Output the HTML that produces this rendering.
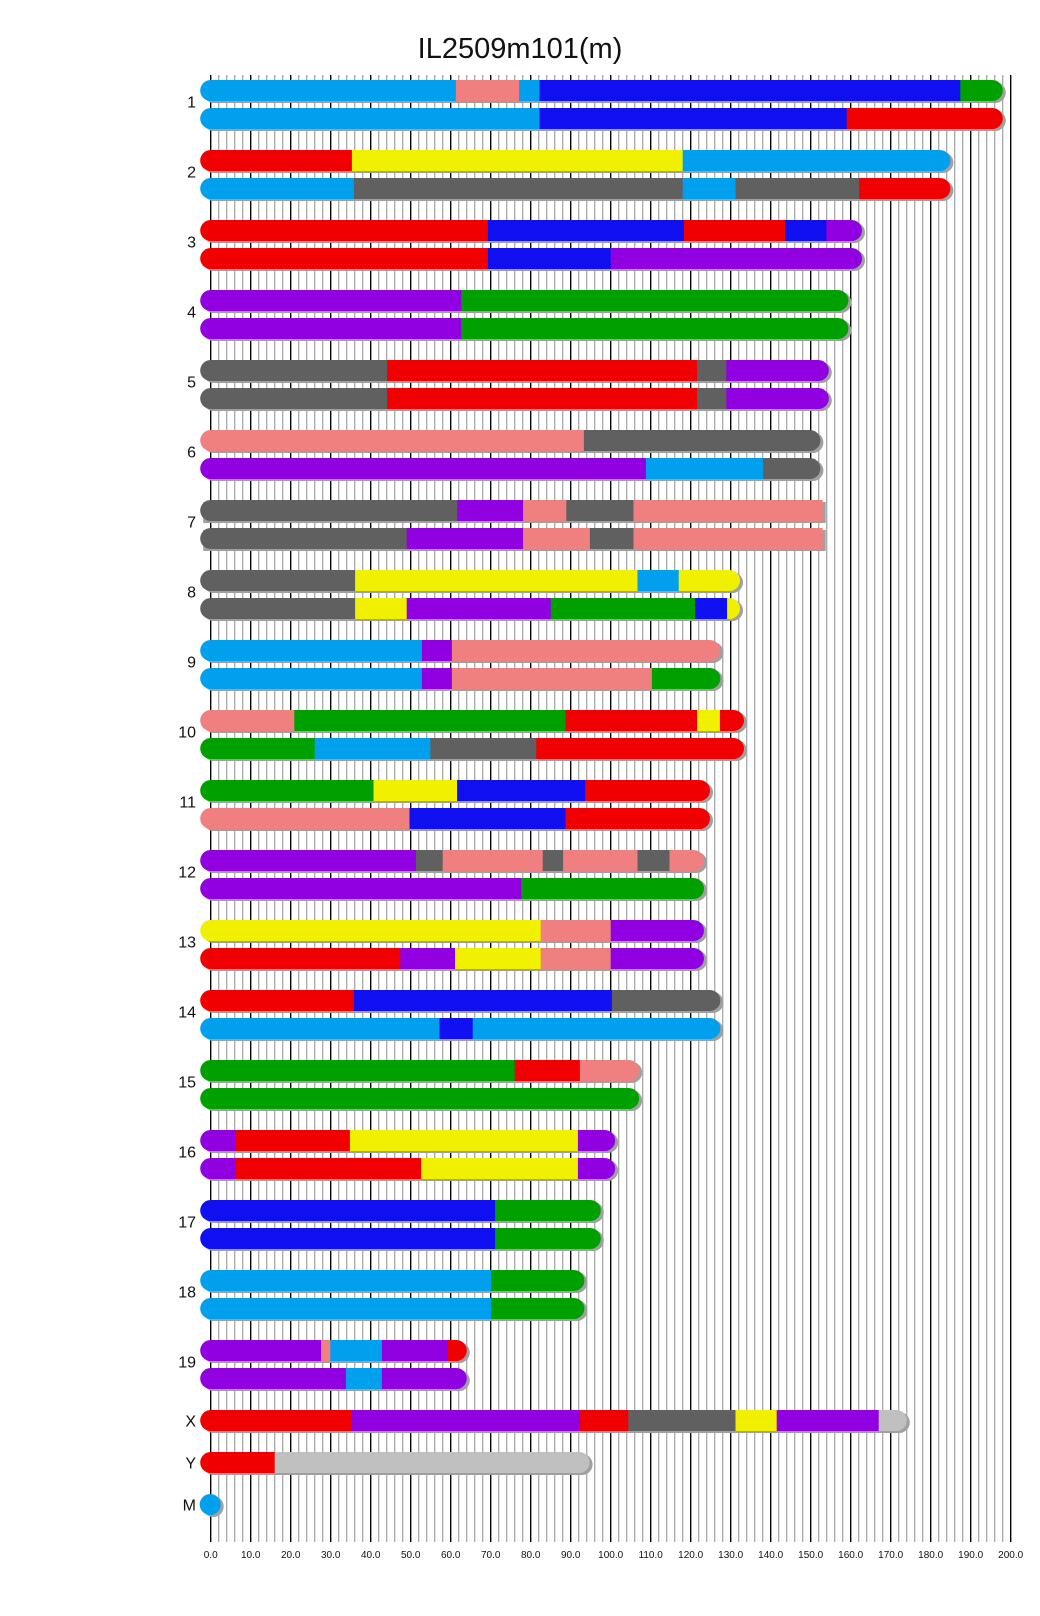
<!DOCTYPE html>
<html><head><meta charset="utf-8"><style>
html,body{margin:0;padding:0;background:#fff;}
svg{display:block;font-family:"Liberation Sans",sans-serif;}
</style></head><body>
<svg id="chart" width="1040" height="1616" viewBox="0 0 1040 1616">
<text x="520" y="58" text-anchor="middle" font-size="29" fill="#111">IL2509m101(m)</text>
<g id="grid"></g>
<g id="bars"></g>
<g id="axis"></g>
</svg>
<script>
const COLORS = {S:'#00a0ee',P:'#f08080',B:'#1010f0',G:'#00a000',R:'#f00000',Y:'#f0f000',D:'#606060',V:'#9000e0',L:'#c0c0c0'};
const chromNames = ['1','2','3','4','5','6','7','8','9','10','11','12','13','14','15','16','17','18','19','X','Y','M'];
const chromLengths = [195.4,182.3,160.2,156.8,151.9,149.8,153,129.7,124.8,130.7,122.2,120.7,120.7,124.8,104.5,98.5,94.9,90.8,61.4,171.4,92.1,0];
const squareEnd = ['7'];
const hapA = [
 [[61.3,'S'],[77.1,'P'],[82.2,'S'],[187.4,'B'],[999,'G']],
 [[35.3,'R'],[118,'Y'],[999,'S']],
 [[69.3,'R'],[118.3,'B'],[143.6,'R'],[153.9,'B'],[999,'V']],
 [[62.6,'V'],[999,'G']],
 [[44.1,'D'],[121.6,'R'],[128.9,'D'],[999,'V']],
 [[93.3,'P'],[999,'D']],
 [[61.6,'D'],[78.1,'V'],[88.9,'P'],[105.7,'D'],[999,'P']],
 [[36.1,'D'],[106.7,'Y'],[117,'S'],[999,'Y']],
 [[52.8,'S'],[60.3,'V'],[999,'P']],
 [[20.9,'P'],[88.7,'G'],[121.6,'R'],[127.3,'Y'],[999,'R']],
 [[40.7,'G'],[61.6,'Y'],[93.6,'B'],[999,'R']],
 [[51.3,'V'],[58,'D'],[83,'P'],[88.1,'D'],[106.7,'P'],[114.7,'D'],[999,'P']],
 [[82.5,'Y'],[100,'P'],[999,'V']],
 [[35.8,'R'],[100.3,'B'],[999,'D']],
 [[76,'G'],[92.3,'R'],[999,'P']],
 [[6.2,'V'],[34.8,'R'],[91.8,'Y'],[999,'V']],
 [[71.1,'B'],[999,'G']],
 [[70.1,'S'],[999,'G']],
 [[27.6,'V'],[29.9,'P'],[42.8,'S'],[59.3,'V'],[999,'R']],
 [[35.3,'R'],[92.3,'V'],[104.4,'R'],[131.2,'D'],[141.5,'Y'],[167,'V'],[999,'L']],
 [[16,'R'],[999,'L']],
 [[999,'S']]
];
const hapB = [
 [[82.2,'S'],[159,'B'],[999,'R']],
 [[35.8,'S'],[118,'D'],[131.2,'S'],[162.1,'D'],[999,'R']],
 [[69.3,'R'],[100,'B'],[999,'V']],
 [[62.6,'V'],[999,'G']],
 [[44.1,'D'],[121.6,'R'],[128.9,'D'],[999,'V']],
 [[108.8,'V'],[138.1,'S'],[999,'D']],
 [[49,'D'],[78.1,'V'],[94.8,'P'],[105.7,'D'],[999,'P']],
 [[36.1,'D'],[49,'Y'],[85,'V'],[121.1,'G'],[129.1,'B'],[999,'Y']],
 [[52.8,'S'],[60.3,'V'],[110.3,'P'],[999,'G']],
 [[26,'G'],[54.9,'S'],[81.4,'D'],[999,'R']],
 [[49.7,'P'],[88.7,'B'],[999,'R']],
 [[77.6,'V'],[999,'G']],
 [[47.4,'R'],[61.1,'V'],[82.5,'Y'],[100,'P'],[999,'V']],
 [[57.2,'S'],[65.5,'B'],[999,'S']],
 [[999,'G']],
 [[6.2,'V'],[52.6,'R'],[91.8,'Y'],[999,'V']],
 [[71.1,'B'],[999,'G']],
 [[70.1,'S'],[999,'G']],
 [[33.8,'V'],[42.8,'S'],[999,'V']],
 null,null,null
];
const tickValues = [0,10,20,30,40,50,60,70,80,90,100,110,120,130,140,150,160,170,180,190,200];

const NS='http://www.w3.org/2000/svg';
const X0=210.7, PX=4, R=10.5, H=21;
const x = v => X0 + v*PX;
function mk(tag, attrs, parent){const e=document.createElementNS(NS,tag);for(const k in attrs)e.setAttribute(k,attrs[k]);parent.appendChild(e);return e;}

const grid=document.getElementById('grid');
for(let v=0; v<=200; v+=2){
  const major = v%10===0;
  const l=mk('line',{x1:x(v),x2:x(v),y1:75,y2:1542,stroke:major?'#000':'#a8a8a8','stroke-width':major?1.4:1.3},grid);
  
  
}
const axis=document.getElementById('axis');
tickValues.forEach(v=>{
  const t=mk('text',{x:x(v),y:1558,'text-anchor':'middle','font-size':10,fill:'#111'},axis);
  t.textContent=v.toFixed(1);
  
  
});

const bars=document.getElementById('bars');
let clipId=0;
function drawBar(g, len, segs, top, sq){
  const x1=x(0)-R, x2=x(len)+(sq?0:R);
  const w=x2-x1;
  mk('rect',{x:x1+3,y:top+2,width:w,height:H,rx:sq?0:R,fill:'#a0a0a0'},g);
  if(sq){mk('rect',{x:x1+3,y:top+2,width:2*R,height:H,rx:R,fill:'#a0a0a0'},g);}
  const id='c'+(clipId++);
  const cp=mk('clipPath',{id:id},g);
  if(sq){mk('rect',{x:x1+R,y:top,width:w-R,height:H},cp);mk('rect',{x:x1,y:top,width:2*R,height:H,rx:R},cp);}
  else mk('rect',{x:x1,y:top,width:w,height:H,rx:R},cp);
  const sg=mk('g',{'clip-path':'url(#'+id+')'},g);
  let prev=-10;
  segs.forEach(s=>{
    const a = prev<=0? x1-2 : x(prev);
    const b = s[0]>=999? x2+2 : x(s[0]);
    const r=mk('rect',{x:a,y:top,width:Math.max(0,b-a+0.5),height:H,fill:COLORS[s[1]]},sg);
    
    
    prev=s[0];
  });
}
chromNames.forEach((name,i)=>{
  const g=mk('g',{},bars);
  
  
  let top, labelY;
  if(i<19){top=80+70*i;labelY=top+21.5;}
  else if(name==='X'){top=1410;labelY=top+10.5;}
  else if(name==='Y'){top=1452;labelY=top+10.5;}
  else {top=1494;labelY=top+10.5;}
  const lab=mk('text',{x:196,y:labelY+6,'text-anchor':'end','font-size':16,fill:'#111'},g);
  lab.textContent=name;
  
  
  if(name==='M'){
    mk('circle',{cx:x(0)+2.5,cy:top+R+2,r:R,fill:'#a0a0a0'},g);
    const c=mk('circle',{cx:x(0)-0.5,cy:top+R,r:R,fill:COLORS.S},g);
    
    
    return;
  }
  const sq=squareEnd.includes(name);
  drawBar(g, chromLengths[i], hapA[i], top, sq);
  if(hapB[i]) drawBar(g, chromLengths[i], hapB[i], top+28, sq);
});
</script>
</body></html>
